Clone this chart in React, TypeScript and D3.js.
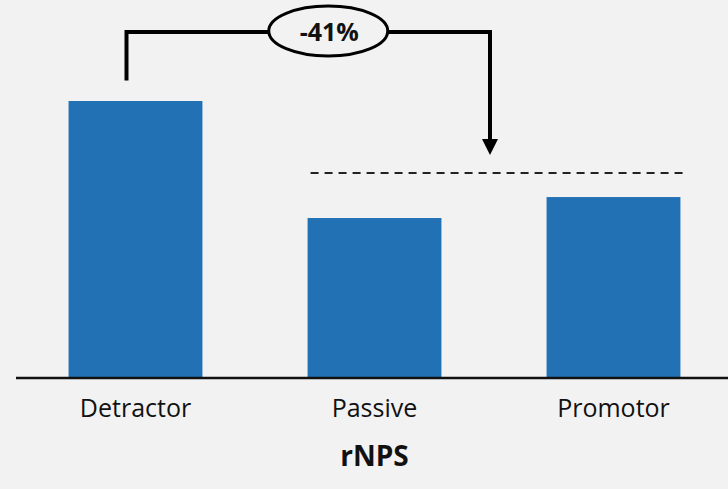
import React from "react";
import * as d3 from "d3";

const categories = ["Detractor", "Passive", "Promotor"];
const values = [100, 57.6, 65.2];
const referenceValue = 73.9;
const changeLabel = "-41%";
const axisTitle = "rNPS";

const W = 728;
const H = 489;
const BASE = 377;
const TOP = 101;
const BAR = "#2271b5";
const FONT = "'Open Sans', 'DejaVu Sans', sans-serif";

export default function App() {
  const x = d3
    .scaleBand<string>()
    .domain(categories)
    .range([16, 733])
    .paddingInner(0.44)
    .paddingOuter(0.22);
  const y = d3.scaleLinear().domain([0, 100]).range([BASE, TOP]);

  const cx = (c: string) => (x(c) as number) + x.bandwidth() / 2;

  // annotation geometry derived from scales
  const leftX = cx(categories[0]) - 9;
  const rightX = (cx(categories[1]) + cx(categories[2])) / 2 - 4;
  const bracketY = y(125);
  const leftStartY = y(107.4);
  const tipY = y(80.4);
  const labelCx = (leftX + rightX) / 2 + 20;
  const dashX0 = (x(categories[1]) as number) + 3;
  const dashX1 = (x(categories[2]) as number) + x.bandwidth() + 3;

  const line = d3.line<[number, number]>();

  return (
    <svg
      width={W}
      height={H}
      style={{ position: "absolute", left: 0, top: 0, background: "#f2f2f2" }}
    >
      <rect width={W} height={H} fill="#f2f2f2" />
      {categories.map((c, i) => (
        <rect
          key={c}
          x={x(c)}
          y={y(values[i])}
          width={x.bandwidth()}
          height={y(0) - y(values[i])}
          fill={BAR}
        />
      ))}
      <line x1={16} x2={W} y1={BASE + 1} y2={BASE + 1} stroke="#111" strokeWidth={2.5} />
      {categories.map((c) => (
        <text
          key={c}
          x={cx(c)}
          y={417}
          textAnchor="middle"
          fontFamily={FONT}
          fontSize={25}
          fill="#111"
        >
          {c}
        </text>
      ))}
      <text
        x={cx(categories[1])}
        y={466}
        textAnchor="middle"
        fontFamily={FONT}
        fontWeight="bold"
        fontSize={28}
        fill="#111"
      >
        {axisTitle}
      </text>

      {/* dashed reference line */}
      <line
        x1={dashX0}
        x2={dashX1}
        y1={y(referenceValue)}
        y2={y(referenceValue)}
        stroke="#222"
        strokeWidth={2}
        strokeDasharray="8,6"
      />

      {/* bracket */}
      <path
        d={
          line([
            [leftX, leftStartY],
            [leftX, bracketY],
            [rightX, bracketY],
            [rightX, tipY - 14],
          ]) as string
        }
        fill="none"
        stroke="#000"
        strokeWidth={4}
        strokeLinejoin="miter"
      />
      <path
        d={`M${rightX - 8},${tipY - 16} L${rightX + 8},${tipY - 16} L${rightX},${tipY} Z`}
        fill="#000"
      />
      <ellipse
        cx={labelCx}
        cy={bracketY - 1}
        rx={59.5}
        ry={25}
        fill="#f2f2f2"
        stroke="#000"
        strokeWidth={3}
      />
      <text
        x={labelCx + 1}
        y={bracketY + 9}
        textAnchor="middle"
        fontFamily={FONT}
        fontWeight="bold"
        fontSize={25}
        fill="#111"
      >
        {changeLabel}
      </text>
    </svg>
  );
}
